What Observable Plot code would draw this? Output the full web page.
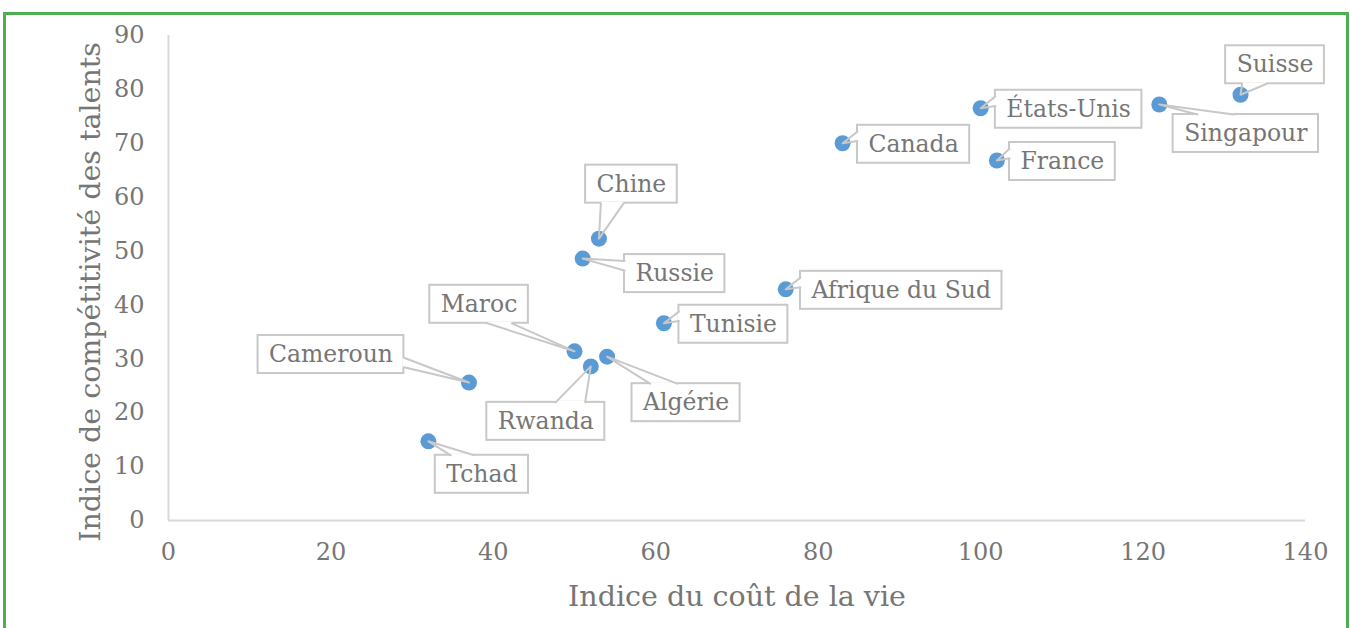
<!DOCTYPE html>
<html><head><meta charset="utf-8">
<script src="https://cdn.jsdelivr.net/npm/d3@7"></script>
<script src="https://cdn.jsdelivr.net/npm/@observablehq/plot@0.6"></script>
<style>
html,body{margin:0;padding:0;background:#fff;overflow:hidden;width:1350px;height:628px}
#chart{position:absolute;left:0;top:0}
#frame{position:absolute;left:3px;top:12px;width:1346px;height:700px;box-sizing:border-box;border:3px solid #4caf50;pointer-events:none;z-index:2}
</style></head><body>
<div id="chart"></div><div id="frame"></div>
<script>
// ---- data ----
const countries = ["Suisse","Singapour","États-Unis","France","Canada","Chine","Russie","Afrique du Sud","Tunisie","Maroc","Algérie","Rwanda","Cameroun","Tchad"];
const costOfLiving = [132,122,100,102,83,53,51,76,61,50,54,52,37,32];
const talentIndex = [79,77.2,76.5,66.8,70,52.3,48.6,42.9,36.6,31.4,30.4,28.6,25.6,14.7];
const xTicks = [0,20,40,60,80,100,120,140];
const yTicks = [0,10,20,30,40,50,60,70,80,90];
const xTitle = "Indice du coût de la vie";
const yTitle = "Indice de compétitivité des talents";

// ---- layout (label box centre offsets from the point, in px) ----
const labelDx = [34.5,86.5,88,65.5,71,32.5,92,115.5,69.5,-95.5,79,-45,-138,53.5];
const labelDy = [-30,29,1,1,1,-54.5,15,1,1,-47,46,55,-28,33];

const W=1350,H=628,ML=168,MR=45,MT=35,MB=108;
const FONT = "'DejaVu Serif', serif";
const LABEL_SIZE = 23.5;
const TITLE_SIZE = 28.5;
const kx=(W-ML-MR)/140, ky=(H-MT-MB)/90;
const toX = px => (px-ML)/kx, toY = py => (H-MB-py)/ky;
const pxX = v => ML+v*kx, pxY = v => H-MB-v*ky;

const ctx = document.createElement("canvas").getContext("2d");
ctx.font = `${LABEL_SIZE}px ${FONT}`;

const data = countries.map((name,i)=>({name, x:costOfLiving[i], y:talentIndex[i]}));
const boxes=[], wedges=[], gaps=[];
data.forEach((d,i)=>{
  const tx=pxX(d.x), ty=pxY(d.y);
  const cx=tx+labelDx[i], cy=ty+labelDy[i];
  const w=ctx.measureText(d.name).width+22, h=38;
  const l=cx-w/2, t=cy-h/2, r=cx+w/2, b=cy+h/2;
  boxes.push({name:d.name, x1:toX(l), x2:toX(r), y1:toY(b), y2:toY(t), cx:toX(cx), cy:toY(cy)});
  const dx=tx-cx, dy=ty-cy, dq=dx*h/w;
  let p1,p2;
  if (Math.abs(dy)-Math.abs(dq)>0){
    const g1=dx>0?7:2, g2=dx>0?10:5, ey=dy<0?t:b;
    p1=[l+w*g1/12,ey]; p2=[l+w*g2/12,ey];
  } else {
    const g1=dy>0?7:2, g2=dy>0?10:5, ex=dx<0?l:r;
    p1=[ex,t+h*g1/12]; p2=[ex,t+h*g2/12];
  }
  wedges.push({k:i,x:toX(p1[0]),y:toY(p1[1])},{k:i,x:d.x,y:d.y},{k:i,x:toX(p2[0]),y:toY(p2[1])});
  gaps.push({x1:toX(p1[0]),y1:toY(p1[1]),x2:toX(p2[0]),y2:toY(p2[1])});
});

const gray="#c8c8c8", textCol="#767676";
const chart = Plot.plot({
  width:W, height:H, marginLeft:ML, marginRight:MR, marginTop:MT, marginBottom:MB,
  style:{fontFamily:FONT, fontSize:"24px", color:textCol, background:"transparent"},
  x:{domain:[0,140], ticks:xTicks, tickSize:0, tickPadding:22, label:null},
  y:{domain:[0,90], ticks:yTicks, tickSize:0, tickPadding:24, label:null},
  marks:[
    Plot.ruleY([0],{stroke:"#d9d9d9",strokeWidth:2}),
    Plot.ruleX([0],{stroke:"#d9d9d9",strokeWidth:2}),
    Plot.dot(data,{x:"x",y:"y",r:8,fill:"#5b9bd5"}),
    Plot.rect(boxes,{x1:"x1",x2:"x2",y1:"y1",y2:"y2",fill:"white",stroke:gray,strokeWidth:2}),
    Plot.link(gaps,{x1:"x1",y1:"y1",x2:"x2",y2:"y2",stroke:"white",strokeWidth:3}),
    Plot.line(wedges,{x:"x",y:"y",z:"k",stroke:gray,strokeWidth:2,curve:"linear"}),
    Plot.text(boxes,{x:"cx",y:"cy",text:"name",fontSize:LABEL_SIZE,fill:textCol,fontFamily:FONT}),
    Plot.text([xTitle],{frameAnchor:"bottom",lineAnchor:"middle",textAnchor:"middle",dy:76,fontSize:TITLE_SIZE,fill:textCol,fontFamily:FONT}),
    Plot.text([yTitle],{frameAnchor:"left",lineAnchor:"middle",textAnchor:"middle",dx:-78,dy:14,rotate:-90,fontSize:TITLE_SIZE,fill:textCol,fontFamily:FONT})
  ]
});
document.getElementById("chart").appendChild(chart);
</script>
</body></html>
